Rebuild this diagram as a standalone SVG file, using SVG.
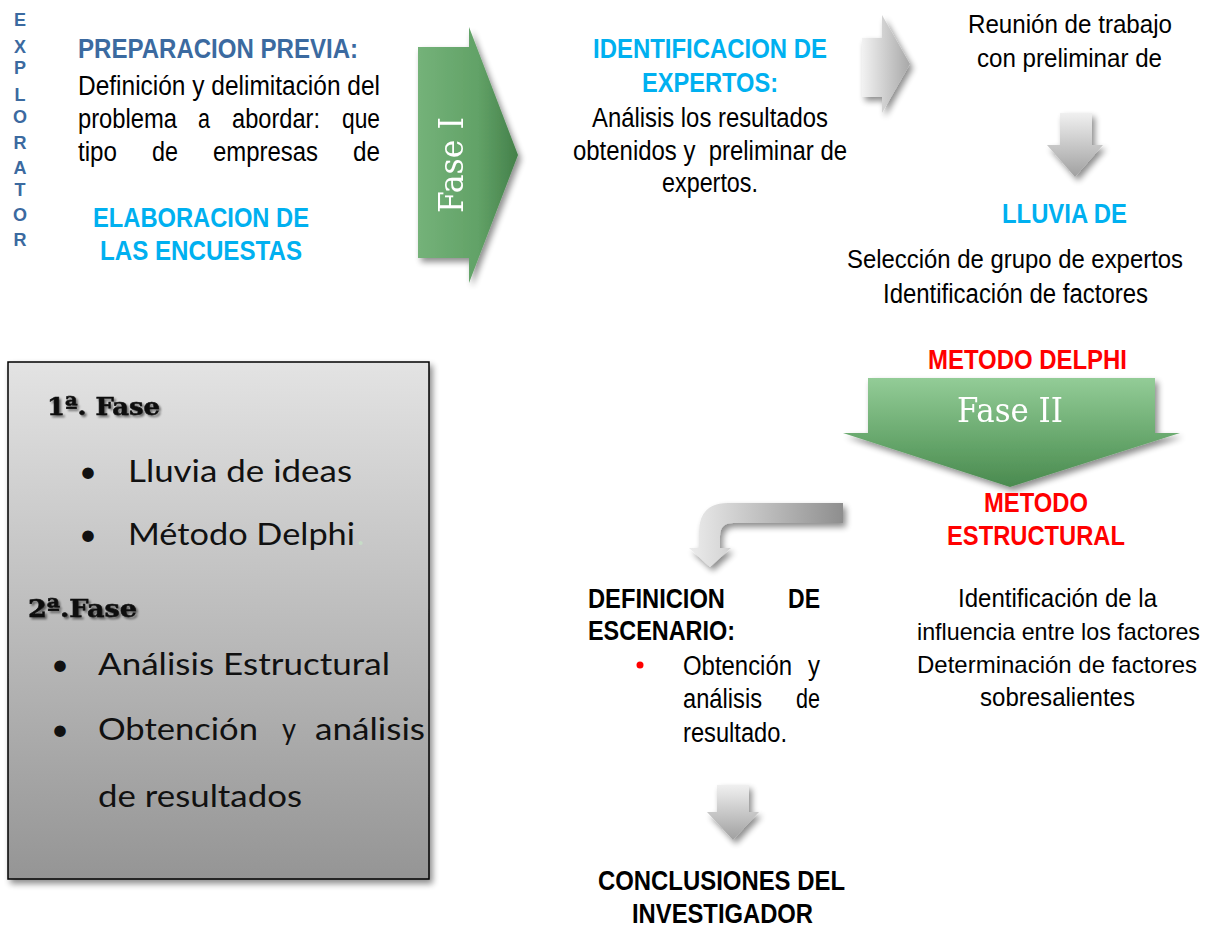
<svg xmlns="http://www.w3.org/2000/svg" width="1216" height="930" viewBox="0 0 1216 930">
<defs>
<style>
.a{font-family:"Liberation Sans",Arial,sans-serif;}
.b{font-family:"Liberation Sans",Arial,sans-serif;font-weight:bold;}
.blk{fill:#000;font-size:27px;}
.cy{fill:#00b0f0;font-size:27px;}
.rd{fill:#ff0000;font-size:27px;}
.sb{fill:#3b6aa0;}
.ex{font-family:"Liberation Sans",Arial,sans-serif;font-weight:bold;font-size:18px;fill:#3b6aa0;text-anchor:middle;}
.cal{font-family:Lato,"Open Sans",sans-serif;font-size:31px;fill:#111;}
.slab{font-family:"DejaVu Serif",serif;font-weight:900;font-size:25px;fill:#111;stroke:#111;stroke-width:0.6px;}
.fase{font-family:"DejaVu Serif",serif;fill:#fff;}
</style>
<linearGradient id="gBox" x1="0" y1="0" x2="0" y2="1">
<stop offset="0" stop-color="#e3e3e3"/><stop offset="1" stop-color="#959595"/>
</linearGradient>
<linearGradient id="gGreenH" x1="0" y1="0" x2="1" y2="0">
<stop offset="0" stop-color="#74b279"/><stop offset="0.6" stop-color="#62a267"/><stop offset="1" stop-color="#44804a"/>
</linearGradient>
<linearGradient id="gGreenV" x1="0" y1="0" x2="0" y2="1">
<stop offset="0" stop-color="#93cc97"/><stop offset="0.6" stop-color="#65a56a"/><stop offset="1" stop-color="#4a8a4f"/>
</linearGradient>
<linearGradient id="gGrayH" x1="0" y1="0" x2="1" y2="0">
<stop offset="0" stop-color="#f2f2f2"/><stop offset="1" stop-color="#a8a8a8"/>
</linearGradient>
<linearGradient id="gGrayV" x1="0" y1="0" x2="0" y2="1">
<stop offset="0" stop-color="#f0f0f0"/><stop offset="1" stop-color="#a0a0a0"/>
</linearGradient>
<linearGradient id="gBent" x1="0" y1="0" x2="1" y2="0">
<stop offset="0" stop-color="#ececec"/><stop offset="1" stop-color="#8e8e8e"/>
</linearGradient>
<filter id="sh" x="-20%" y="-20%" width="150%" height="150%">
<feGaussianBlur in="SourceAlpha" stdDeviation="3"/>
<feOffset dx="3" dy="4" result="o"/>
<feComponentTransfer><feFuncA type="linear" slope="0.45"/></feComponentTransfer>
<feMerge><feMergeNode/><feMergeNode in="SourceGraphic"/></feMerge>
</filter>
<filter id="tsh" x="-10%" y="-20%" width="130%" height="150%">
<feGaussianBlur in="SourceAlpha" stdDeviation="1.2"/>
<feOffset dx="2" dy="2"/>
<feComponentTransfer><feFuncA type="linear" slope="0.5"/></feComponentTransfer>
<feMerge><feMergeNode/><feMergeNode in="SourceGraphic"/></feMerge>
</filter>
</defs>
<rect width="1216" height="930" fill="#fff"/>

<g id="explorator">
<text class="ex" x="20" y="26">E</text><text class="ex" x="20" y="53">X</text><text class="ex" x="20" y="74">P</text>
<text class="ex" x="20" y="101">L</text><text class="ex" x="20" y="123">O</text><text class="ex" x="20" y="149">R</text>
<text class="ex" x="20" y="174">A</text><text class="ex" x="20" y="196">T</text><text class="ex" x="20" y="221">O</text>
<text class="ex" x="20" y="246">R</text>
</g>

<g id="preparacion">
<text class="b sb" font-size="27" x="78" y="58" textLength="280" lengthAdjust="spacingAndGlyphs">PREPARACION PREVIA:</text>
<text class="a blk" x="78" y="95" textLength="302" lengthAdjust="spacingAndGlyphs">Definición y delimitación del</text>
<g class="a blk">
<text x="78" y="128" textLength="99" lengthAdjust="spacingAndGlyphs">problema</text>
<text x="198" y="128" textLength="12" lengthAdjust="spacingAndGlyphs">a</text>
<text x="232" y="128" textLength="88" lengthAdjust="spacingAndGlyphs">abordar:</text>
<text x="342" y="128" textLength="38" lengthAdjust="spacingAndGlyphs">que</text>
<text x="78" y="161" textLength="39" lengthAdjust="spacingAndGlyphs">tipo</text>
<text x="152" y="161" textLength="26" lengthAdjust="spacingAndGlyphs">de</text>
<text x="213" y="161" textLength="105" lengthAdjust="spacingAndGlyphs">empresas</text>
<text x="353" y="161" textLength="27" lengthAdjust="spacingAndGlyphs">de</text>
</g>
</g>

<g id="elaboracion" class="b cy">
<text x="93" y="227" textLength="216" lengthAdjust="spacingAndGlyphs">ELABORACION DE</text>
<text x="100" y="260" textLength="202" lengthAdjust="spacingAndGlyphs">LAS ENCUESTAS</text>
</g>

<g id="fase1" filter="url(#sh)">
<path d="M418,47 L469,47 L469,27 L518,155 L469,283 L469,258 L418,258 Z" fill="url(#gGreenH)"/>
<text class="fase" font-size="33" transform="translate(463,165) rotate(-90)" text-anchor="middle" textLength="96" lengthAdjust="spacingAndGlyphs">Fase I</text>
</g>

<g id="identificacion">
<text class="b cy" x="593" y="58" textLength="234" lengthAdjust="spacingAndGlyphs">IDENTIFICACION DE</text>
<text class="b cy" x="642" y="92" textLength="136" lengthAdjust="spacingAndGlyphs">EXPERTOS:</text>
<text class="a blk" x="592" y="127" textLength="236" lengthAdjust="spacingAndGlyphs">Análisis los resultados</text>
<text class="a blk" x="573" y="160" textLength="274" lengthAdjust="spacingAndGlyphs" xml:space="preserve">obtenidos y  preliminar de</text>
<text class="a blk" x="662" y="192" textLength="96" lengthAdjust="spacingAndGlyphs">expertos.</text>
</g>

<g id="reunion" class="a">
<text x="968" y="33" font-size="25" textLength="204" lengthAdjust="spacingAndGlyphs">Reunión de trabajo</text>
<text x="977" y="67" font-size="25" textLength="185" lengthAdjust="spacingAndGlyphs">con preliminar de</text>
</g>

<g id="lluvia">
<text class="b cy" font-size="24" x="1002" y="223" textLength="125" lengthAdjust="spacingAndGlyphs">LLUVIA DE</text>
<text class="a" font-size="25" x="847" y="268" textLength="336" lengthAdjust="spacingAndGlyphs">Selección de grupo de expertos</text>
<text class="a blk" x="883" y="303" textLength="265" lengthAdjust="spacingAndGlyphs">Identificación de factores</text>
</g>

<g id="delphi">
<text class="b rd" x="928" y="369" textLength="199" lengthAdjust="spacingAndGlyphs">METODO DELPHI</text>
</g>

<g id="fase2" filter="url(#sh)">
<path d="M868,378 L1155,378 L1155,433 L1180,433 L1010,487 L843,433 L868,433 Z" fill="url(#gGreenV)"/>
<text class="fase" font-size="33" x="957" y="422" textLength="106" lengthAdjust="spacingAndGlyphs">Fase II</text>
</g>

<g id="estructural">
<text class="b rd" x="984" y="512" textLength="104" lengthAdjust="spacingAndGlyphs">METODO</text>
<text class="b rd" x="947" y="545" textLength="178" lengthAdjust="spacingAndGlyphs">ESTRUCTURAL</text>
<g class="a" font-size="25">
<text x="958" y="607" textLength="199" lengthAdjust="spacingAndGlyphs">Identificación de la</text>
<text x="917" y="640" font-size="24" textLength="283" lengthAdjust="spacingAndGlyphs">influencia entre los factores</text>
<text x="917" y="673" font-size="24" textLength="280" lengthAdjust="spacingAndGlyphs">Determinación de factores</text>
<text x="980" y="706" textLength="155" lengthAdjust="spacingAndGlyphs">sobresalientes</text>
</g>
</g>

<g id="escenario">
<text class="b blk" x="588" y="608" textLength="137" lengthAdjust="spacingAndGlyphs">DEFINICION</text>
<text class="b blk" x="788" y="608" textLength="32" lengthAdjust="spacingAndGlyphs">DE</text>
<text class="b blk" x="588" y="640" textLength="147" lengthAdjust="spacingAndGlyphs">ESCENARIO:</text>
<circle cx="640" cy="665" r="3.5" fill="#ff0000"/>
<g class="a blk">
<text x="683" y="675" textLength="109" lengthAdjust="spacingAndGlyphs">Obtención</text>
<text x="808" y="675" textLength="12" lengthAdjust="spacingAndGlyphs">y</text>
<text x="683" y="708" textLength="79" lengthAdjust="spacingAndGlyphs">análisis</text>
<text x="796" y="708" textLength="24" lengthAdjust="spacingAndGlyphs">de</text>
<text x="683" y="742" textLength="104" lengthAdjust="spacingAndGlyphs">resultado.</text>
</g>
</g>

<g id="conclusiones">
<text class="b blk" x="598" y="890" textLength="247" lengthAdjust="spacingAndGlyphs">CONCLUSIONES DEL</text>
<text class="b blk" x="632" y="923" textLength="181" lengthAdjust="spacingAndGlyphs">INVESTIGADOR</text>
</g>

<g id="resumen">
<rect x="8" y="362" width="421" height="517" fill="url(#gBox)" stroke="#000" stroke-width="1.5" filter="url(#sh)"/>
<g filter="url(#tsh)">
<text class="slab" x="47" y="415" textLength="113" lengthAdjust="spacingAndGlyphs">1ª. Fase</text>
<text class="slab" x="28" y="617" textLength="109" lengthAdjust="spacingAndGlyphs">2ª.Fase</text>
</g>
<g class="cal">
<text x="79" y="482">•</text>
<text x="128" y="482" textLength="224" lengthAdjust="spacingAndGlyphs">Lluvia de ideas</text>
<text x="79" y="545">•</text>
<text x="128" y="545" textLength="227" lengthAdjust="spacingAndGlyphs">Método Delphi</text>
<text x="357" y="545" fill="#c7dcc7">.</text>
<text x="51" y="675">•</text>
<text x="98" y="675" textLength="292" lengthAdjust="spacingAndGlyphs">Análisis Estructural</text>
<text x="51" y="740">•</text>
<text x="98" y="740" textLength="160" lengthAdjust="spacingAndGlyphs">Obtención</text>
<text x="282" y="740" textLength="14" lengthAdjust="spacingAndGlyphs">y</text>
<text x="315" y="740" textLength="110" lengthAdjust="spacingAndGlyphs">análisis</text>
<text x="98" y="807" textLength="204" lengthAdjust="spacingAndGlyphs">de resultados</text>
</g>
</g>

<g id="connectors" filter="url(#sh)">
<path d="M862,38 L882,38 L882,15 L910,64 L882,113 L882,97 L862,97 Z" fill="url(#gGrayH)"/>
<path d="M1060,113 L1092,113 L1092,145 L1103,145 L1075,177 L1047,145 L1060,145 Z" fill="url(#gGrayV)"/>
<path d="M843,503 L728,503 Q699,503 699,532 L699,548 L689,548 L710,567 L731,548 L720,548 L720,536 Q720,523 733,523 L843,523 Z" fill="url(#gBent)"/>
<path d="M717,785 L749,785 L749,812 L759,812 L733,840 L707,812 L717,812 Z" fill="url(#gGrayV)"/>
</g>
</svg>
